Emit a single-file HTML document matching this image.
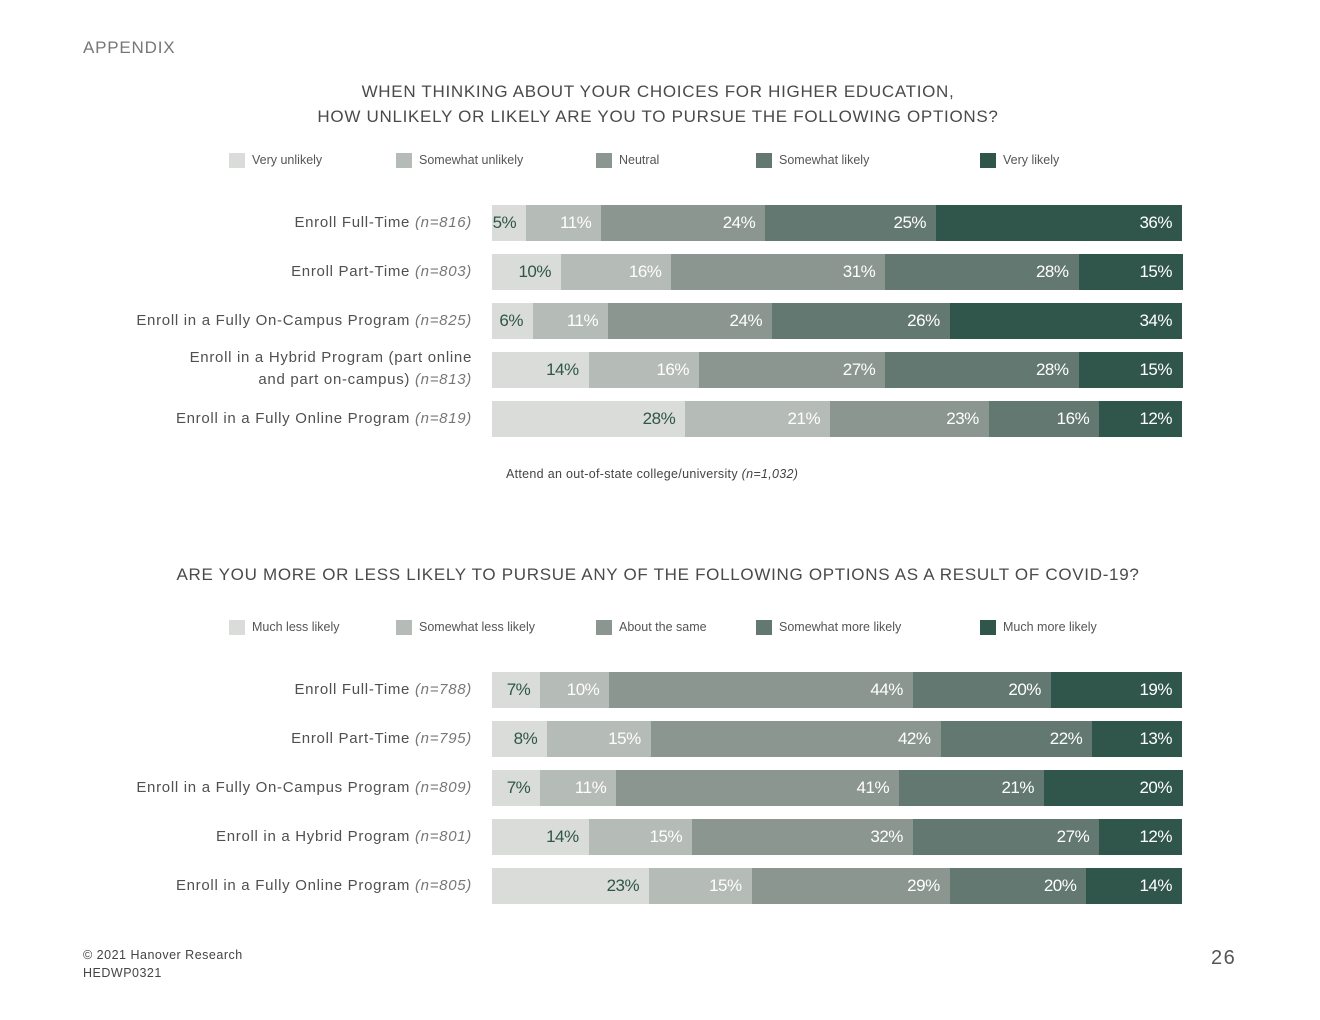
<!DOCTYPE html>
<html><head><meta charset="utf-8"><style>
body{margin:0;width:1320px;height:1020px;background:#fff;font-family:"Liberation Sans",sans-serif;color:#555;position:relative;overflow:hidden}
.abs{position:absolute}
.title{position:absolute;left:0;width:1316px;text-align:center;font-size:17px;letter-spacing:0.7px;color:#4a4a4a;line-height:25px}
.sw{position:absolute;width:16px;height:15px}
.lt{position:absolute;font-size:12.5px;color:#555}
.cat{position:absolute;right:848px;text-align:right;font-size:15px;color:#505050;line-height:22px;letter-spacing:0.7px}
.cat i{color:#777}
.seg{position:absolute;height:36px}
.val{position:absolute;font-family:"Liberation Sans Narrow","Liberation Sans",sans-serif;font-size:17px;line-height:36px;text-align:right;letter-spacing:-0.5px}
</style></head><body>
<div class="abs" style="left:83px;top:38px;font-size:17px;letter-spacing:0.8px;color:#777">APPENDIX</div>
<div class="title" style="top:79px">WHEN THINKING ABOUT YOUR CHOICES FOR HIGHER EDUCATION,<br>HOW UNLIKELY OR LIKELY ARE YOU TO PURSUE THE FOLLOWING OPTIONS?</div>
<div class="title" style="top:562px">ARE YOU MORE OR LESS LIKELY TO PURSUE ANY OF THE FOLLOWING OPTIONS AS A RESULT OF COVID-19?</div>
<div class="abs" style="left:506px;top:467px;font-size:12.5px;color:#444;letter-spacing:0.3px">Attend an out-of-state college/university <i>(n=1,032)</i></div>
<div class="abs" style="left:83px;top:946px;font-size:12.5px;color:#444;line-height:18px;letter-spacing:0.5px">© 2021 Hanover Research<br>HEDWP0321</div>
<div class="abs" style="left:1211px;top:947px;font-size:20px;color:#555;letter-spacing:1.5px">26</div>
<div id="root"></div>
<script>
const colors=['#d9dcd9','#b5bbb6','#8a968f','#637870','#30564b'];
const legend1=['Very unlikely','Somewhat unlikely','Neutral','Somewhat likely','Very likely'];
const legend2=['Much less likely','Somewhat less likely','About the same','Somewhat more likely','Much more likely'];
const cats1=[['Enroll Full-Time','816'],['Enroll Part-Time','803'],['Enroll in a Fully On-Campus Program','825'],['Enroll in a Hybrid Program (part online<br>and part on-campus)','813'],['Enroll in a Fully Online Program','819']];
const vals1=[[5,11,24,25,36],[10,16,31,28,15],[6,11,24,26,34],[14,16,27,28,15],[28,21,23,16,12]];
const cats2=[['Enroll Full-Time','788'],['Enroll Part-Time','795'],['Enroll in a Fully On-Campus Program','809'],['Enroll in a Hybrid Program','801'],['Enroll in a Fully Online Program','805']];
const vals2=[[7,10,44,20,19],[8,15,42,22,13],[7,11,41,21,20],[14,15,32,27,12],[23,15,29,20,14]];
const root=document.getElementById('root');
const X0=492,W=690;
function mk(cls,style,html){const d=document.createElement('div');d.className=cls;d.style.cssText=style;if(html!=null)d.innerHTML=html;root.appendChild(d);return d;}
const legX=[229,396,596,756,980];
function legend(items,y){items.forEach((t,i)=>{
 const s=mk('sw',`left:${legX[i]}px;top:${y}px;background:${colors[i]}`);
 
 
 const l=mk('lt',`left:${legX[i]+23}px;top:${y}px`,t);
 
 
});}
function chart(cats,vals,y0,name){
 cats.forEach((c,r)=>{
  const cy=y0+r*49;
  const two=c[0].includes('<br>');
  const lab=mk('cat',`top:${cy-(two?22:10)}px`,c[0]+' <i>(n='+c[1]+')</i>');
  
  
  const sum=vals[r].reduce((a,b)=>a+b,0);
  let acc=0;
  vals[r].forEach((v,i)=>{
   const x=X0+W*acc/sum, w=W*v/sum; acc+=v;
   const s=mk('seg',`left:${x}px;top:${cy-17}px;width:${w+0.5}px;background:${colors[i]}`);
   
   
   const t=mk('val',`left:${x}px;top:${cy-17}px;width:${w-10}px;color:${i==0?'#30564b':'#fff'}`,v+'%');
   
   
  });
 });
}
legend(legend1,153);
legend(legend2,620);
chart(cats1,vals1,222,'chart1');
chart(cats2,vals2,689,'chart2');
</script>
</body></html>
